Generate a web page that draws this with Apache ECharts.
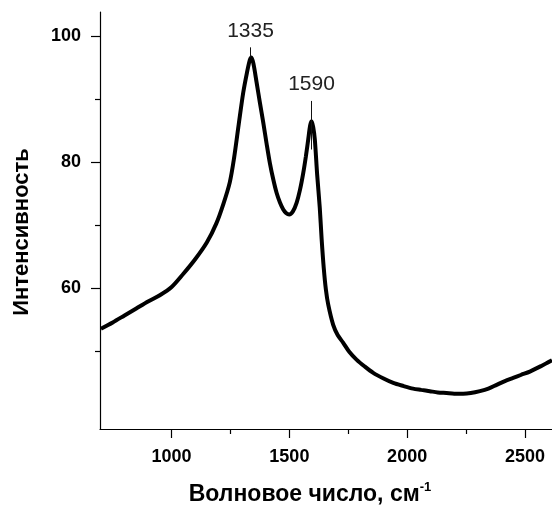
<!DOCTYPE html>
<html><head><meta charset="utf-8">
<script src="https://cdn.jsdelivr.net/npm/echarts@6/dist/echarts.min.js"></script>
<style>html,body{margin:0;padding:0;background:#fff}#c{width:552px;height:508px}</style>
</head><body><div id="c"></div>
<script>
const waveNumbers = [700,750,800,850,900,950,1000,1050,1100,1150,1190,1220,1247,1265,1285,1304,1320,1332,1339,1348,1361,1375,1389,1403,1417,1432,1446,1460,1474,1487,1499,1515,1531,1545,1559,1570,1580,1588,1594,1601,1608,1618,1629,1637,1646,1655,1665,1686,1705,1728,1755,1785,1820,1856,1900,1941,1985,2025,2060,2096,2130,2167,2200,2238,2270,2309,2345,2380,2415,2450,2485,2521,2570,2615];
const intensity = [53.6,54.6,55.7,56.8,57.9,58.9,60.2,62.3,64.6,67.3,70.3,73.4,76.8,80.6,86.0,91.0,94.2,96.2,96.6,95.5,92.6,89.4,86.3,83.0,79.9,77.2,75.1,73.6,72.5,71.9,71.7,72.2,73.6,75.6,78.3,80.9,83.6,85.8,86.5,85.6,83.6,78.0,72.8,67.8,63.2,59.8,57.4,54.2,52.6,51.4,49.9,48.7,47.6,46.6,45.7,45.0,44.5,44.1,43.9,43.7,43.5,43.4,43.3,43.3,43.4,43.7,44.1,44.7,45.3,45.8,46.3,46.8,47.7,48.6];
const xTickLabels = [1000,1500,2000,2500];
const xMinorTicks = [1250,1750,2250];
const yTickLabels = [60,80,100];
const yMinorTicks = [50,70,90];
const peakLabels = ['1335','1590'];
const peakX = [1335,1594];
const peakLineBottom = [96.6,82.0];
const peakLineTop = [98.2,89.7];

const font = 'Liberation Sans, Arial, sans-serif';
const chart = echarts.init(document.getElementById('c'));
const X = {min:696, max:2615};
const Y = {min:37.7, max:103.8};
chart.setOption({
  animation:false,
  backgroundColor:'#fff',
  grid:{left:100, right:0, top:12, bottom:79, containLabel:false, outerBoundsMode:'none'},
  xAxis:[{
    type:'value', min:X.min, max:X.max,
    axisLine:{lineStyle:{color:'#000', width:1.2}},
    axisTick:{customValues:xTickLabels, length:9, inside:false, lineStyle:{color:'#000', width:1.2}},
    axisLabel:{customValues:xTickLabels, formatter:v=>String(v), color:'#000', fontFamily:font, fontWeight:'bold', fontSize:18, margin:19},
    splitLine:{show:false},
    name:'{a|Волновое число, см}{b|-1}', nameLocation:'middle', nameGap:52,
    nameTextStyle:{padding:[0,32,0,0], rich:{
      a:{fontSize:23, fontFamily:font, color:'#000', fontWeight:'bold'},
      b:{fontSize:13, fontFamily:font, color:'#000', fontWeight:'bold', padding:[0,0,14,0]}
    }}
  },{
    type:'value', min:X.min, max:X.max, position:'bottom',
    axisLine:{show:false},
    axisTick:{customValues:xMinorTicks, length:5, lineStyle:{color:'#000', width:1.2}},
    axisLabel:{show:false}, splitLine:{show:false}
  }],
  yAxis:[{
    type:'value', min:Y.min, max:Y.max,
    axisLine:{show:true, lineStyle:{color:'#000', width:1.2}},
    axisTick:{show:true, customValues:yTickLabels, length:9, lineStyle:{color:'#000', width:1.2}},
    axisLabel:{customValues:yTickLabels, formatter:v=>String(v), color:'#000', fontFamily:font, fontWeight:'bold', fontSize:18, margin:19},
    splitLine:{show:false},
    name:'Интенсивность', nameLocation:'middle', nameGap:67,
    nameTextStyle:{fontSize:22, fontFamily:font, color:'#000', fontWeight:'bold', padding:[0,23,0,0]}
  },{
    type:'value', min:Y.min, max:Y.max, position:'left',
    axisLine:{show:false},
    axisTick:{show:true, customValues:yMinorTicks, length:5, lineStyle:{color:'#000', width:1.2}},
    axisLabel:{show:false}, splitLine:{show:false}
  }],
  series:[{
    type:'line', xAxisIndex:0, yAxisIndex:0,
    data:waveNumbers.map((x,i)=>[x,intensity[i]]),
    showSymbol:false, smooth:0.3,
    lineStyle:{color:'#000', width:4},
    markLine:{
      silent:true, symbol:'none', animation:false,
      lineStyle:{color:'#111', width:1, type:'solid'},
      label:{show:true, position:'end', distance:6, color:'#222', fontFamily:font, fontSize:21, formatter:p=>p.name},
      data:peakLabels.map((n,i)=>[{name:n, coord:[peakX[i], peakLineBottom[i]]},{coord:[peakX[i], peakLineTop[i]]}])
    }
  }]
});
</script></body></html>
